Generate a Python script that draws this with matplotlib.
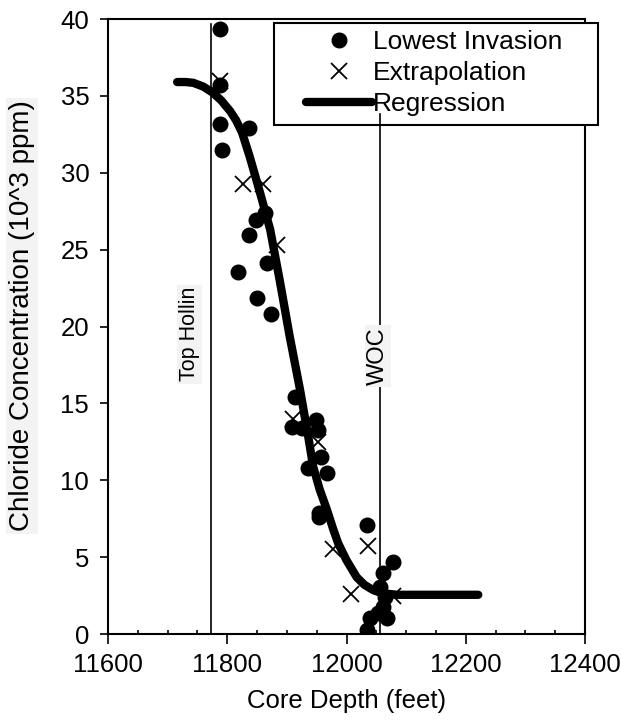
import matplotlib
matplotlib.use('Agg')
import matplotlib.pyplot as plt
from matplotlib.ticker import MultipleLocator
from matplotlib.patches import Rectangle

plt.rcParams['font.family'] = ['Liberation Sans', 'DejaVu Sans']

# lowest invasion samples (depth ft, chloride 10^3 ppm)
inv_depth = [11788, 11788, 11788, 11791, 11837, 11848, 11863, 11837, 11867, 11818,
             11850, 11873, 11914, 11909, 11925, 11949, 11952, 11957, 11935, 11967,
             11954, 11954, 12034, 12078, 12061, 12056, 12061, 12053, 12068, 12040,
             12034, 12064]
inv_cl = [39.35, 35.7, 33.2, 31.5, 32.9, 26.9, 27.4, 25.95, 24.1, 23.55,
          21.85, 20.8, 15.4, 13.45, 13.4, 13.9, 13.25, 11.5, 10.8, 10.5,
          7.6, 7.9, 7.1, 4.7, 3.95, 3.05, 1.75, 1.35, 1.05, 1.05,
          0.25, 2.4]

# extrapolated points
ext_depth = [11788, 11826, 11860, 11883, 11910, 11952, 11977, 12007, 12036, 12078]
ext_cl = [36.0, 29.3, 29.3, 25.3, 14.0, 12.5, 5.5, 2.6, 5.7, 2.5]

# regression curve
reg_depth = [11716, 11730, 11743, 11760, 11776, 11790, 11805, 11815, 11825, 11838,
             11855, 11872, 11888, 11905, 11922, 11936, 11944, 11955, 11967, 11977,
             11986, 12000, 12017, 12030, 12045, 12060, 12085, 12221]
reg_cl = [35.9, 35.9, 35.85, 35.6, 35.2, 34.7, 34.0, 33.4, 32.6, 31.0,
          28.7, 26.3, 23.0, 19.3, 15.9, 12.8, 10.9, 9.4, 8.1, 6.9,
          5.9, 4.8, 3.7, 3.2, 2.85, 2.65, 2.55, 2.55]

top_hollin = 11773
woc = 12056

fig = plt.figure(figsize=(6.21, 7.26), dpi=100)
ax = fig.add_axes([108/621, 92/726, 477/621, 615/726])

ax.plot(reg_depth, reg_cl, color='black', lw=6, solid_capstyle='round',
        solid_joinstyle='round', zorder=3, label='Regression')
ax.plot(inv_depth, inv_cl, 'o', color='black', ms=10.5, zorder=4, label='Lowest Invasion')
ax.plot(ext_depth, ext_cl, 'x', color='black', ms=11, mew=1.3, zorder=4, label='Extrapolation')

ax.plot([top_hollin, top_hollin], [0, 39.7], color='black', lw=1.2, zorder=2)
ax.plot([woc, woc], [0, 33.8], color='black', lw=1.2, zorder=6, clip_on=False)

gray = dict(boxstyle='square,pad=0.1', facecolor='#f3f3f3', edgecolor='none')
ax.text(11737, 19.5, 'Top Hollin', rotation=90, ha='center', va='center',
        fontsize=15.5, bbox=gray, zorder=5)
ax.text(12053, 18.1, 'WOC', rotation=90, ha='center', va='center',
        fontsize=17, bbox=gray, zorder=7)

ax.set_xlim(11600, 12400)
ax.set_ylim(0, 40)
ax.xaxis.set_major_locator(MultipleLocator(200))
ax.xaxis.set_minor_locator(MultipleLocator(50))
ax.yaxis.set_major_locator(MultipleLocator(5))
ax.tick_params(axis='both', which='major', direction='out', length=7, width=1.2,
               labelsize=18.5, colors='black')
ax.tick_params(axis='y', which='major', length=5.5, pad=8)
ax.tick_params(axis='x', which='minor', direction='in', length=3, width=1.2)
ax.tick_params(axis='x', which='major', pad=7)
for s in ax.spines.values():
    s.set_linewidth(1.5)

ax.set_xlabel('Core Depth (feet)', fontsize=18.5, labelpad=8)
fig.text(22/621, 1 - 316/726, 'Chloride Concentration (10^3 ppm)', rotation=90,
         ha='center', va='center', fontsize=20,
         bbox=dict(boxstyle='square,pad=0.1', facecolor='#f3f3f3', edgecolor='none'))

# legend box drawn separately, the entries sit to the right of it
box = Rectangle((274/621, 1 - 125/726), 324/621, 102/726, transform=fig.transFigure,
                facecolor='white', edgecolor='black', lw=1.5, clip_on=False, zorder=5)
ax.add_patch(box)

handles, labels = ax.get_legend_handles_labels()
order = [1, 2, 0]
leg = ax.legend([handles[i] for i in order], [labels[i] for i in order],
                loc='upper left', bbox_to_anchor=(306/621, 1 - 30/726),
                bbox_transform=fig.transFigure, fontsize=19, frameon=False,
                borderpad=0, labelspacing=0.27, handlelength=2.5,
                handletextpad=0.05, borderaxespad=0)
leg.set_zorder(7)

fig.savefig('out.png', dpi=100)
